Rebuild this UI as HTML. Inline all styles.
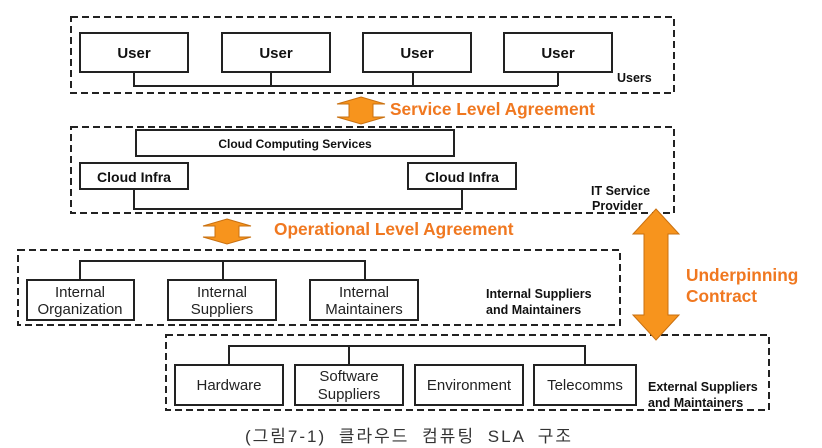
<!DOCTYPE html>
<html><head><meta charset="utf-8"><style>
html,body{margin:0;padding:0;background:#fff;}
svg{display:block;}
text{font-family:"Liberation Sans",Arial,sans-serif;}
</style></head><body>
<svg width="822" height="448" viewBox="0 0 822 448" xmlns="http://www.w3.org/2000/svg">
<g fill="none" stroke="#222" stroke-width="2" stroke-dasharray="7,4">
<rect x="71" y="17" width="603" height="76"/>
<rect x="71" y="127" width="603" height="86"/>
<rect x="18" y="250" width="602" height="75"/>
<rect x="166" y="335" width="603" height="75"/>
</g>
<g fill="#fff" stroke="#222" stroke-width="2">
<polyline fill="none" points="134,72 134,86 558,86"/>
<line x1="271" y1="72" x2="271" y2="86"/><line x1="413" y1="72" x2="413" y2="86"/><line x1="558" y1="72" x2="558" y2="86"/>
<rect x="80" y="33" width="108" height="39"/>
<rect x="222" y="33" width="108" height="39"/>
<rect x="363" y="33" width="108" height="39"/>
<rect x="504" y="33" width="108" height="39"/>
<rect x="136" y="130" width="318" height="26"/>
<polyline fill="none" points="134,189 134,209 462,209 462,189"/>
<rect x="80" y="163" width="108" height="26"/>
<rect x="408" y="163" width="108" height="26"/>
<polyline fill="none" points="80,280 80,261 365,261 365,280"/>
<line x1="223" y1="261" x2="223" y2="280"/>
<rect x="27" y="280" width="107" height="40"/>
<rect x="168" y="280" width="108" height="40"/>
<rect x="310" y="280" width="108" height="40"/>
<polyline fill="none" points="229,365 229,346 585,346 585,365"/>
<line x1="349" y1="346" x2="349" y2="365"/>
<rect x="175" y="365" width="108" height="40"/>
<rect x="295" y="365" width="108" height="40"/>
<rect x="415" y="365" width="108" height="40"/>
<rect x="534" y="365" width="102" height="40"/>
</g>
<g fill="#f7941d" stroke="#c97010" stroke-width="1">
<polygon points="361,97 385,104 373,104 373,117 385,117 361,124 337,117 349,117 349,104 337,104"/>
<polygon points="227,219 251,226 239,226 239,237 251,237 227,244 203,237 215,237 215,226 203,226"/>
<polygon points="656,209 679,234 668,234 668,315 679,315 656,340 633,315 644,315 644,234 633,234"/>
</g>
<g font-weight="bold" fill="#111" text-anchor="middle" font-size="15">
<text x="134" y="58">User</text><text x="276" y="58">User</text><text x="417" y="58">User</text><text x="558" y="58">User</text>
<text x="134" y="182" font-size="14">Cloud Infra</text><text x="462" y="182" font-size="14">Cloud Infra</text>
<text x="295" y="148" font-size="12">Cloud Computing Services</text>
</g>
<g font-weight="bold" fill="#111" font-size="12.5">
<text x="617" y="82">Users</text>
<text x="591" y="195">IT Service</text><text x="592" y="210">Provider</text>
<text x="486" y="298">Internal  Suppliers</text><text x="486" y="314">and Maintainers</text>
<text x="648" y="391">External  Suppliers</text><text x="648" y="407">and Maintainers</text>
</g>
<g fill="#222" text-anchor="middle" font-size="15">
<text x="80" y="297">Internal</text><text x="80" y="314">Organization</text>
<text x="222" y="297">Internal</text><text x="222" y="314">Suppliers</text>
<text x="364" y="297">Internal</text><text x="364" y="314">Maintainers</text>
<text x="229" y="390">Hardware</text>
<text x="349" y="381">Software</text><text x="349" y="399">Suppliers</text>
<text x="469" y="390">Environment</text>
<text x="585" y="390">Telecomms</text>
</g>
<g fill="#f07820" font-weight="bold" font-size="17.3">
<text x="390" y="115">Service Level Agreement</text>
<text x="274" y="235">Operational Level Agreement</text>
<text x="686" y="281">Underpinning</text>
<text x="686" y="302">Contract</text>
</g>
<text x="409" y="442" text-anchor="middle" font-size="17" letter-spacing="2" word-spacing="6" fill="#333" font-family="'Liberation Sans','Noto Sans CJK KR',sans-serif">(그림7-1) 클라우드 컴퓨팅 SLA 구조</text>
</svg>
</body></html>
